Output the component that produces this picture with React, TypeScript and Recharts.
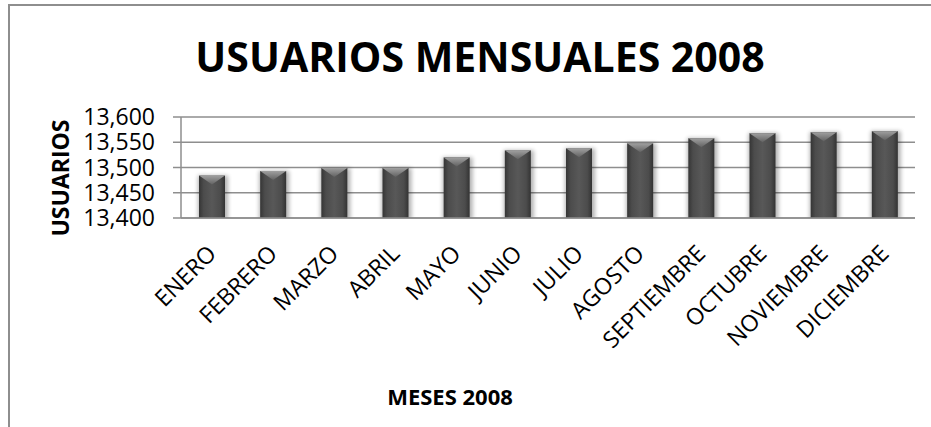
import React from 'react';
import { BarChart, Bar, XAxis, YAxis, CartesianGrid } from 'recharts';

const months = ['ENERO', 'FEBRERO', 'MARZO', 'ABRIL', 'MAYO', 'JUNIO', 'JULIO', 'AGOSTO', 'SEPTIEMBRE', 'OCTUBRE', 'NOVIEMBRE', 'DICIEMBRE'];
const users = [13484, 13493, 13499, 13499, 13520, 13534, 13538, 13548, 13558, 13568, 13570, 13572];
const yTicks = [13400, 13450, 13500, 13550, 13600];
const chartTitle = 'USUARIOS MENSUALES 2008';
const xTitle = 'MESES 2008';
const yTitle = 'USUARIOS';

const data = months.map((m, i) => ({ month: m, users: users[i] }));

const FONT = '"Open Sans", sans-serif';
const GRID = '#8e8e8e';

const BevelBar = (props: any) => {
  const { x, y, width, height, index } = props;
  if (!height || height <= 0) return null;
  const tri = Math.min(9, height / 2);
  return (
    <g>
      <defs>
        <linearGradient id={`body${index}`} x1="0" y1="0" x2="1" y2="0">
          <stop offset="0%" stopColor="#353535" />
          <stop offset="18%" stopColor="#4c4c4c" />
          <stop offset="50%" stopColor="#585858" />
          <stop offset="82%" stopColor="#4c4c4c" />
          <stop offset="100%" stopColor="#333333" />
        </linearGradient>
        <linearGradient id={`cap${index}`} x1="0" y1="0" x2="0" y2="1">
          <stop offset="0%" stopColor="#a0a0a0" />
          <stop offset="100%" stopColor="#626262" />
        </linearGradient>
        <filter id={`sh${index}`} x="-60%" y="-20%" width="220%" height="140%">
          <feGaussianBlur stdDeviation="2" />
        </filter>
      </defs>
      <rect x={x - 1} y={y} width={width + 4} height={height + 2} fill="#000" opacity={0.3} filter={`url(#sh${index})`} />
      <rect x={x} y={y} width={width} height={height} fill={`url(#body${index})`} />
      <polygon points={`${x},${y} ${x + width},${y} ${x + width / 2},${y + tri}`} fill={`url(#cap${index})`} />
    </g>
  );
};

const XTick = (props: any) => {
  const { x, y, payload } = props;
  const ax = x + 6;
  const ay = y + 37;
  return (
    <text x={ax} y={ay} transform={`rotate(-45 ${ax} ${ay})`} textAnchor="end" fontFamily={FONT} fontSize={23} fill="#000">
      {payload.value}
    </text>
  );
};

export default function App() {
  return (
    <div style={{ position: 'absolute', left: 0, top: 0, width: 931, height: 427, background: '#fff', overflow: 'hidden' }}>
      <div style={{ position: 'absolute', left: 8, top: 4, width: 940, height: 440, borderLeft: `2px solid ${GRID}`, borderTop: `2px solid ${GRID}` }} />
      <div style={{ position: 'absolute', left: 0, top: 0 }}>
        <BarChart width={931} height={427} data={data} margin={{ top: 117, right: 16, bottom: 89, left: 91 }}>
          <CartesianGrid vertical={false} stroke={GRID} strokeWidth={1.5} />
          <XAxis
            dataKey="month"
            height={120}
            tick={<XTick />}
            tickSize={0}
            tickMargin={0}
            axisLine={{ stroke: GRID, strokeWidth: 1.5 }}
            tickLine={false}
            interval={0}
          />
          <YAxis
            width={90}
            domain={[13400, 13600]}
            ticks={yTicks}
            interval={0}
            tickFormatter={(v: number) => v.toLocaleString('en-US')}
            tickSize={8}
            tickMargin={18}
            tick={{ fontFamily: FONT, fontSize: 23, fill: '#000' }}
            axisLine={{ stroke: GRID, strokeWidth: 1.5 }}
            tickLine={{ stroke: GRID, strokeWidth: 1.5 }}
            allowDataOverflow
          />
          <Bar dataKey="users" barSize={26} shape={<BevelBar />} isAnimationActive={false} />
        </BarChart>
      </div>
      <svg width={931} height={427} style={{ position: 'absolute', left: 0, top: 0, pointerEvents: 'none' }}>
        <text x={480} y={72} textAnchor="middle" fontFamily={FONT} fontWeight={700} fontSize={41} fill="#000">{chartTitle}</text>
        <text x={450} y={405} textAnchor="middle" fontFamily={FONT} fontWeight={700} fontSize={22} fill="#000">{xTitle}</text>
        <text x={69} y={178} transform="rotate(-90 69 178)" textAnchor="middle" fontFamily={FONT} fontWeight={700} fontSize={23} fill="#000">{yTitle}</text>
      </svg>
    </div>
  );
}
